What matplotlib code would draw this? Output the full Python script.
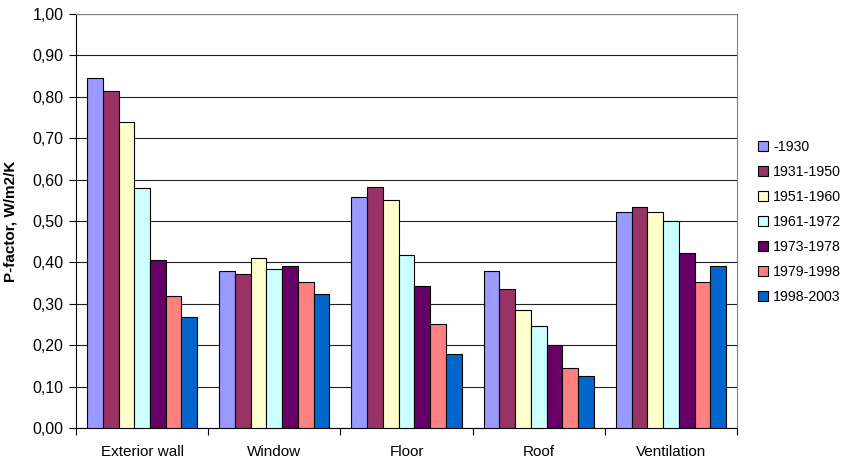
import numpy as np
import matplotlib
matplotlib.use("Agg")
import matplotlib.pyplot as plt
from matplotlib.ticker import FixedLocator, FuncFormatter

plt.rcParams['font.family'] = ['Liberation Sans', 'DejaVu Sans']

categories = ['Exterior wall', 'Window', 'Floor', 'Roof', 'Ventilation']
periods = ['-1930', '1931-1950', '1951-1960', '1961-1972', '1973-1978', '1979-1998', '1998-2003']

# P-factor per building part, one list per construction period
p_1930 = [0.845, 0.380, 0.559, 0.380, 0.521]
p_1950 = [0.815, 0.371, 0.581, 0.336, 0.533]
p_1960 = [0.740, 0.411, 0.550, 0.284, 0.521]
p_1972 = [0.579, 0.385, 0.417, 0.247, 0.499]
p_1978 = [0.406, 0.391, 0.342, 0.201, 0.423]
p_1998 = [0.319, 0.352, 0.250, 0.144, 0.352]
p_2003 = [0.267, 0.323, 0.178, 0.126, 0.392]
series = [p_1930, p_1950, p_1960, p_1972, p_1978, p_1998, p_2003]

colors = ['#9999FF', '#993366', '#FFFFCC', '#CCFFFF', '#660066', '#FF8080', '#0066CC']

fig = plt.figure(figsize=(8.42, 4.61), dpi=100)
ax = fig.add_axes([0.0903, 0.0716, 0.785, 0.898])

x = np.arange(len(categories))
width = 0.119
for i, (vals, col, lab) in enumerate(zip(series, colors, periods)):
    offs = (i - 3) * width
    ax.bar(x + offs, vals, width, color=col, edgecolor='black', linewidth=0.8,
           label=lab, zorder=3)

ax.set_xlim(-0.5, len(categories) - 0.5)
ax.set_ylim(0, 1.0)
ax.yaxis.set_major_locator(FixedLocator(np.arange(0, 1.01, 0.1)))
ax.yaxis.set_major_formatter(FuncFormatter(lambda v, p: f"{v:.2f}".replace('.', ',')))
ax.grid(axis='y', color='#222222', linewidth=0.8, zorder=0)

# category separators as major ticks, names on minor ticks
ax.xaxis.set_major_locator(FixedLocator(np.arange(-0.5, len(categories), 1.0)))
ax.xaxis.set_minor_locator(FixedLocator(x))
ax.set_xticklabels([], minor=False)
ax.set_xticklabels(categories, minor=True)
ax.tick_params(axis='x', which='minor', length=0, pad=12, labelsize=11)
ax.tick_params(axis='x', which='major', length=5, direction='out', width=0.8)
ax.tick_params(axis='y', length=5, direction='out', width=0.8, labelsize=11.5, pad=4)

for s in ['top', 'right']:
    ax.spines[s].set_color('#808080')
ax.spines['left'].set_color('black')
ax.spines['bottom'].set_color('black')

ax.set_ylabel('P-factor, W/m2/K', fontsize=11, fontweight='bold')
ax.yaxis.set_label_coords(-0.088, 0.5)

fig.legend(loc='upper left', bbox_to_anchor=(0.894, 0.709), frameon=False,
           fontsize=10.2, handlelength=0.7, handleheight=0.7, handletextpad=0.35,
           labelspacing=0.78, borderaxespad=0)

fig.savefig('out.png', dpi=100)
